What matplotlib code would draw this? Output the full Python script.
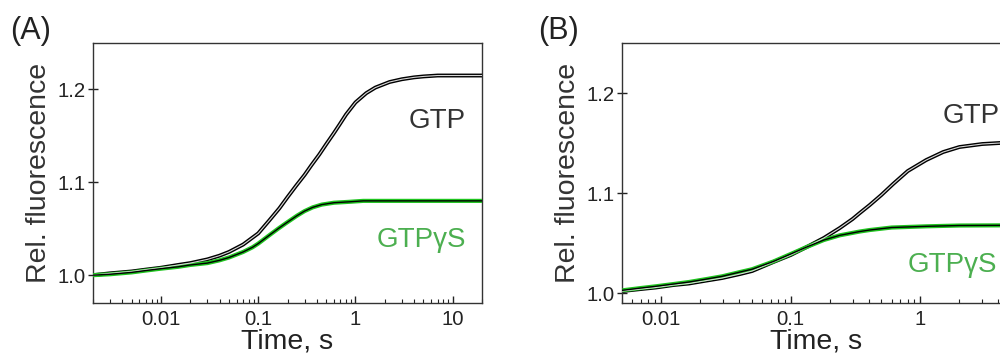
import matplotlib
matplotlib.use('Agg')
import matplotlib.pyplot as plt
from matplotlib.ticker import FixedLocator, FixedFormatter, LogLocator, NullFormatter

plt.rcParams['font.family'] = ['Liberation Sans', 'DejaVu Sans']

# panel A, values
a_time = [0.002, 0.003, 0.005, 0.007, 0.01, 0.015, 0.02, 0.03, 0.04, 0.05, 0.07, 0.1,
          0.13, 0.165, 0.2, 0.244, 0.3, 0.35, 0.425, 0.5, 0.6, 0.684, 0.8, 1.0, 1.29,
          1.6, 2.24, 3.0, 4.0, 5.0, 7.0, 10.0, 20.0]
a_gtp = [1.000, 1.002, 1.004, 1.006, 1.008, 1.011, 1.013, 1.017, 1.021, 1.025, 1.033, 1.045,
         1.059, 1.072, 1.084, 1.096, 1.108, 1.118, 1.130, 1.141, 1.153, 1.162, 1.173, 1.186, 1.196,
         1.202, 1.208, 1.211, 1.213, 1.214, 1.215, 1.215, 1.215]
a_gtpgs_time = [0.002, 0.003, 0.005, 0.007, 0.01, 0.015, 0.02, 0.03, 0.04, 0.05, 0.07,
                0.0873, 0.1, 0.13, 0.16, 0.193, 0.25, 0.3, 0.363, 0.45, 0.6, 0.867, 1.2,
                2.0, 5.0, 20.0]
a_gtpgs = [1.000, 1.001, 1.003, 1.005, 1.007, 1.009, 1.011, 1.013, 1.016, 1.019, 1.025,
           1.030, 1.034, 1.043, 1.050, 1.056, 1.064, 1.069, 1.073, 1.076, 1.078, 1.079, 1.080,
           1.080, 1.080, 1.080]

# panel B
b_time = [0.00504, 0.007, 0.0091, 0.0125, 0.0164, 0.0225, 0.0296, 0.0407, 0.0504, 0.0735,
          0.1, 0.1328, 0.18, 0.239, 0.3, 0.341, 0.407, 0.5, 0.616, 0.8, 1.11, 1.5, 2.0,
          3.0, 4.07, 5.0]
b_gtp = [1.002, 1.004, 1.0055, 1.008, 1.0095, 1.0125, 1.015, 1.019, 1.022, 1.031,
         1.038, 1.046, 1.055, 1.065, 1.074, 1.080, 1.088, 1.098, 1.109, 1.122, 1.133, 1.141,
         1.146, 1.149, 1.150, 1.151]
b_gtpgs_time = [0.00504, 0.007, 0.0091, 0.0125, 0.0164, 0.0225, 0.0296, 0.0407, 0.0504,
                0.0735, 0.1, 0.1328, 0.18, 0.239, 0.341, 0.407, 0.6, 1.11, 2.0, 5.0]
b_gtpgs = [1.0027, 1.005, 1.0067, 1.009, 1.011, 1.014, 1.0167, 1.021, 1.0238, 1.0315,
           1.039, 1.046, 1.053, 1.0577, 1.0615, 1.063, 1.0655, 1.0667, 1.0675, 1.0677]

x_ticks = [0.01, 0.1, 1, 10]
x_labels = ['0.01', '0.1', '1', '10']
y_ticks = [1.0, 1.1, 1.2]
y_labels = ['1.0', '1.1', '1.2']

DATA_GREEN = '#1fc41f'
LABEL_GREEN = '#4caf50'
TEXT_GRAY = '#333333'


def style_axis(ax, xlim, ylim):
    ax.set_xscale('log')
    ax.set_xlim(*xlim)
    ax.set_ylim(*ylim)
    ax.xaxis.set_major_locator(FixedLocator(x_ticks))
    ax.xaxis.set_major_formatter(FixedFormatter(x_labels))
    ax.xaxis.set_minor_locator(LogLocator(base=10, subs=range(2, 10), numticks=20))
    ax.xaxis.set_minor_formatter(NullFormatter())
    ax.yaxis.set_major_locator(FixedLocator(y_ticks))
    ax.yaxis.set_major_formatter(FixedFormatter(y_labels))
    ax.tick_params(axis='x', which='major', direction='in', length=5, width=1,
                   labelsize=14.7, pad=5, colors='#222222')
    ax.tick_params(axis='x', which='minor', direction='in', length=3, width=0.8, colors='#222222')
    ax.tick_params(axis='y', which='major', direction='inout', length=7, width=1,
                   labelsize=14.7, pad=2, colors='#222222')
    for s in ax.spines.values():
        s.set_color('#333333')
        s.set_linewidth(1.0)
    ax.set_xlabel('Time, s', fontsize=20.5, color='#222222', labelpad=0)
    ax.set_ylabel('Rel. fluorescence', fontsize=20.5, color='#333333', labelpad=4)


def draw_traces(ax, t1, y1, t2, y2):
    ax.plot(t1, y1, color='black', lw=2.8, solid_capstyle='butt', zorder=2)
    ax.plot(t1, y1, color='#d8d8d8', lw=0.8, zorder=4)
    ax.plot(t2, y2, color=DATA_GREEN, lw=3.0, solid_capstyle='butt', zorder=3)
    ax.plot(t2, y2, color='black', lw=1.0, zorder=5)


fig = plt.figure(figsize=(10, 3.54), dpi=100)

ax_a = fig.add_axes([0.093, 0.144, 0.389, 0.7345])
draw_traces(ax_a, a_time, a_gtp, a_gtpgs_time, a_gtpgs)
style_axis(ax_a, (0.002, 20), (0.97, 1.25))
ax_a.text(13.6, 1.158, 'GTP', fontsize=20, color=TEXT_GRAY, ha='right', va='baseline')
ax_a.text(13.6, 1.030, 'GTP\u03b3S', fontsize=20, color=LABEL_GREEN, ha='right', va='baseline')

ax_b = fig.add_axes([0.622, 0.144, 0.389, 0.7345])
draw_traces(ax_b, b_time, b_gtp, b_gtpgs_time, b_gtpgs)
style_axis(ax_b, (0.005, 5), (0.99, 1.25))
ax_b.text(1.48, 1.170, 'GTP', fontsize=20, color=TEXT_GRAY, ha='left', va='baseline')
ax_b.text(0.798, 1.0207, 'GTP\u03b3S', fontsize=20, color=LABEL_GREEN, ha='left', va='baseline')

fig.text(0.031, 0.912, '(A)', fontsize=22, color='#222222', ha='center', va='center')
fig.text(0.558, 0.912, '(B)', fontsize=22, color='#222222', ha='center', va='center')

fig.savefig('out.png', dpi=100)
